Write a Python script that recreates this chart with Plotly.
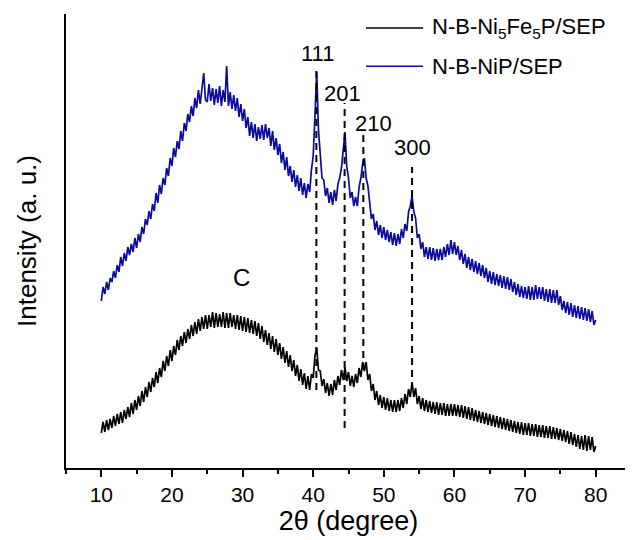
import numpy as np
import plotly.graph_objects as go

# 2-theta grid (degrees), 0.25 degree steps from 10 to 80
two_theta = np.round(np.arange(10.0, 80.0001, 0.25), 2)

# N-B-NiP/SEP (blue, offset upwards), intensity in a.u. (4 readings per degree)
nip_sep = [
    167, 181, 174, 186,  178, 190, 186, 197,  190, 203, 196, 211,  202, 215, 207, 221,
    213, 224, 216, 230,  220, 234, 226, 241,  234, 249, 243, 257,  249, 264, 257, 275,
    265, 283, 274, 290,  283, 300, 292, 310,  302, 320, 311, 327,  319, 337, 327, 345,
    337, 354, 346, 362,  352, 370, 360, 378,  364, 380, 395, 368,  366, 384, 367, 380,
    363, 379, 365, 382,  362, 378, 366, 402,  362, 376, 359, 373,  357, 370, 351, 364,
    347, 359, 340, 351,  332, 346, 330, 344,  327, 341, 329, 343,  328, 344, 330, 340,
    322, 337, 318, 330,  313, 324, 305, 316,  298, 311, 292, 302,  286, 298, 281, 293,
    277, 290, 273, 285,  270, 284, 276, 298,  312, 352, 396, 338,  314, 290, 288, 272,
    280, 265, 276, 263,  278, 267, 284, 290,  300, 318, 336, 302,  290, 270, 276, 262,
    271, 262, 281, 290,  304, 310, 290, 282,  268, 249, 254, 238,  247, 233, 243, 230,
    241, 228, 238, 226,  236, 223, 235, 222,  234, 224, 239, 230,  244, 237, 256, 262,
    272, 256, 250, 230,  234, 219, 226, 211,  221, 209, 221, 208,  220, 207, 219, 208,
    219, 208, 221, 211,  224, 213, 228, 214,  226, 213, 222, 208,  218, 204, 214, 200,
    211, 198, 209, 196,  207, 194, 205, 192,  203, 190, 200, 186,  197, 184, 196, 183,
    194, 182, 193, 180,  192, 179, 191, 178,  189, 176, 186, 173,  184, 171, 182, 170,
    181, 169, 182, 168,  181, 168, 183, 169,  181, 169, 181, 167,  179, 166, 179, 165,
    178, 165, 178, 163,  172, 158, 167, 155,  166, 153, 165, 151,  163, 150, 162, 149,
    161, 148, 160, 147,  159, 146, 157, 143,  148,
]

# N-B-Ni5Fe5P/SEP (black), intensity in a.u. (4 readings per degree)
nife_sep = [
    35, 46, 36, 48,  38, 49, 40, 52,  42, 54, 44, 56,  45, 58, 49, 61,
    51, 65, 54, 68,  58, 72, 62, 77,  66, 81, 71, 86,  76, 90, 81, 96,
    85, 100, 91, 107,  97, 112, 102, 118,  107, 122, 113, 128,  118, 132, 122, 136,
    125, 139, 129, 143,  132, 146, 134, 149,  137, 151, 139, 153,  139, 153, 141, 156,
    140, 155, 141, 154,  141, 156, 140, 155,  140, 155, 141, 153,  139, 153, 138, 152,
    137, 151, 136, 150,  135, 148, 134, 147,  132, 145, 129, 142,  126, 138, 123, 135,
    119, 132, 116, 129,  113, 125, 109, 121,  105, 117, 101, 113,  97, 108, 92, 103,
    87, 99, 83, 95,  79, 92, 78, 94,  90, 112, 120, 98,  97, 82, 89, 75,
    85, 72, 84, 73,  88, 78, 92, 83,  98, 88, 101, 87,  96, 82, 92, 81,
    94, 85, 100, 91,  106, 97, 106, 88,  94, 77, 84, 68,  77, 63, 73, 60,
    71, 58, 70, 57,  68, 56, 68, 56,  68, 57, 70, 60,  74, 64, 79, 71,
    86, 71, 80, 64,  72, 59, 70, 57,  68, 56, 67, 55,  66, 54, 66, 53,
    65, 53, 65, 52,  64, 52, 64, 52,  64, 52, 63, 51,  63, 50, 62, 49,
    61, 48, 60, 47,  58, 46, 57, 45,  56, 44, 55, 43,  54, 42, 53, 41,
    52, 40, 51, 39,  50, 38, 49, 37,  48, 36, 47, 35,  46, 34, 46, 33,
    45, 33, 45, 32,  44, 32, 44, 31,  43, 31, 43, 30,  42, 30, 42, 29,
    41, 29, 40, 28,  39, 27, 38, 26,  37, 24, 36, 23,  34, 21, 33, 19,
    32, 18, 33, 17,  32, 18, 31, 16,  22,
]

assert len(nip_sep) == len(two_theta) == len(nife_sep)

series_names = ["N-B-Ni<sub>5</sub>Fe<sub>5</sub>P/SEP", "N-B-NiP/SEP"]

# Reflection indices and their positions
peak_labels = ["111", "201", "210", "300"]
peak_pos = [40.45, 44.45, 47.1, 54.0]
peak_line_top = [398, 365, 335, 301]
peak_line_bottom = [78, 40, 98, 91]
peak_label_x = [40.55, 44.2, 48.5, 54.0]
peak_label_y = [415, 375, 345, 321]

carbon_label = "C"
carbon_x = 29.8
carbon_y = 191

x_ticks = [10, 20, 30, 40, 50, 60, 70, 80]

FONT = "Liberation Sans, Arial, sans-serif"
BLUE = "#0a0a9e"
colors = ["black", BLUE]

fig = go.Figure()

for name, vals, col in zip(series_names, [nife_sep, nip_sep], colors):
    fig.add_trace(go.Scatter(
        x=two_theta, y=vals, mode="lines", name=name, showlegend=False,
        line=dict(color=col, width=1.7),
    ))

for i in range(len(peak_pos)):
    fig.add_trace(go.Scatter(
        x=[peak_pos[i], peak_pos[i]],
        y=[peak_line_bottom[i], peak_line_top[i]],
        mode="lines", showlegend=False, hoverinfo="skip",
        line=dict(color="black", width=2, dash="7px,5px"),
    ))
    fig.add_annotation(
        x=peak_label_x[i], y=peak_label_y[i], text=peak_labels[i],
        showarrow=False, xanchor="center", yanchor="middle",
        font=dict(family=FONT, size=22, color="black"),
    )

fig.add_annotation(
    x=carbon_x, y=carbon_y, text=carbon_label, showarrow=False,
    xanchor="center", yanchor="middle",
    font=dict(family=FONT, size=24, color="black"),
)

# Legend (drawn as line samples + text, positioned like the original figure)
legend_rows_y = [0.969, 0.885]
for name, col, ly in zip(series_names, colors, legend_rows_y):
    fig.add_shape(type="line", xref="paper", yref="paper",
                  x0=0.531, x1=0.632, y0=ly, y1=ly,
                  line=dict(color=col, width=1.5))
    fig.add_annotation(x=0.644, y=ly, xref="paper", yref="paper", text=name,
                       showarrow=False, xanchor="left", yanchor="middle",
                       font=dict(family=FONT, size=22, color="black"))

fig.update_layout(
    width=633, height=540,
    margin=dict(l=58, r=10, t=6, b=80),
    paper_bgcolor="white", plot_bgcolor="white",
    font=dict(family=FONT, color="black"),
    showlegend=False,
)

fig.update_xaxes(
    range=[5, 85], tickvals=x_ticks, ticks="outside", ticklen=7, tickwidth=2,
    tickcolor="black", showline=True, linewidth=2, linecolor="black",
    showgrid=False, zeroline=False, mirror=False,
    tickfont=dict(family=FONT, size=21),
    title=dict(text="2θ (degree)", font=dict(family=FONT, size=27), standoff=6),
    minor=dict(dtick=5, tick0=5, ticks="outside", ticklen=4, tickwidth=2, tickcolor="black"),
)
fig.update_yaxes(
    range=[0, 454], showticklabels=False, ticks="", showline=True, linewidth=2,
    linecolor="black", showgrid=False, zeroline=False,
    title=dict(text="Intensity (a. u.)", font=dict(family=FONT, size=26), standoff=20),
)

fig.write_html("out.html")
